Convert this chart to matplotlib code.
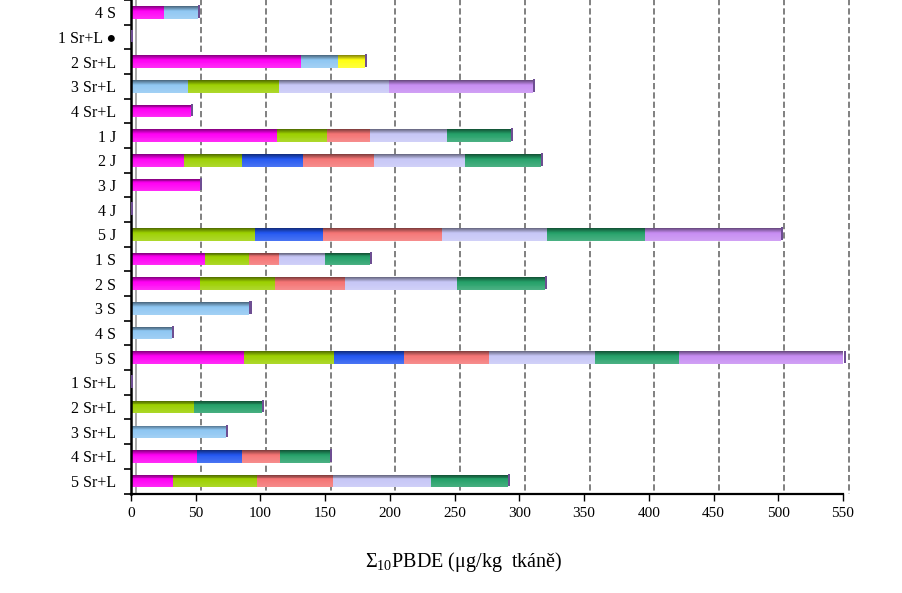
import numpy as np
import matplotlib
matplotlib.use("Agg")
import matplotlib.pyplot as plt
from matplotlib import transforms
from matplotlib.colors import to_rgb

# ---------------- data ----------------
categories = ["4 S", "1 Sr+L \u25CF", "2 Sr+L", "3 Sr+L", "4 Sr+L",
              "1 J", "2 J", "3 J", "4 J", "5 J",
              "1 S", "2 S", "3 S", "4 S", "5 S",
              "1 Sr+L", "2 Sr+L", "3 Sr+L", "4 Sr+L", "5 Sr+L"]

magenta  = [25.5, 0, 131.5, 0, 46.5, 113, 41, 53.5, 0, 0, 57.5, 53.5, 0, 0, 87, 0, 0, 0, 51, 32.5]
skyblue  = [26.5, 0, 28.5, 44, 0, 0, 0, 0, 0, 0, 0, 0, 91.5, 32, 0, 0, 0, 73, 0, 0]
yellow   = [0, 0, 21, 0, 0, 0, 0, 0, 0, 0, 0, 0, 0, 0, 0, 0, 0, 0, 0, 0]
ygreen   = [0, 0, 0, 70, 0, 38.5, 45, 0, 0, 96, 34, 58, 0, 0, 69.5, 0, 48.5, 0, 0, 64.5]
blue     = [0, 0, 0, 0, 0, 0, 46.5, 0, 0, 52, 0, 0, 0, 0, 54, 0, 0, 0, 34.5, 0]
salmon   = [0, 0, 0, 0, 0, 33.5, 55, 0, 0, 92, 23, 54, 0, 0, 66, 0, 0, 0, 29.5, 59]
lavender = [0, 0, 0, 85, 0, 59, 70.5, 0, 0, 81, 35, 86, 0, 0, 82, 0, 0, 0, 0, 75.5]
dgreen   = [0, 0, 0, 0, 0, 49.5, 58.5, 0, 0, 76, 35, 68, 0, 0, 65, 0, 53, 0, 38.5, 60]
purple   = [0, 0, 0, 111.5, 0, 0, 0, 0, 0, 105, 0, 0, 0, 0, 127, 0, 0, 0, 0, 0]

series = [magenta, skyblue, yellow, ygreen, blue, salmon, lavender, dgreen, purple]
colors = ["#FF00F4", "#8EC6F2", "#FFFF10", "#9CD000", "#2256F0",
          "#F47474", "#C6C6F6", "#24A068", "#C68CF2"]

xticks = [0, 50, 100, 150, 200, 250, 300, 350, 400, 450, 500, 550]
xlabel = "\u03A3$_{10}$PBDE (\u03BCg/kg  tk\u00E1n\u011B)"

# ---------------- figure ----------------
plt.rcParams['font.family'] = ['Liberation Serif', 'DejaVu Sans']
plt.rcParams['mathtext.fontset'] = 'custom'
plt.rcParams['mathtext.rm'] = 'Liberation Serif'
plt.rcParams['mathtext.it'] = 'Liberation Serif'

fig = plt.figure(figsize=(9.03, 5.93), dpi=100)
ax = fig.add_axes([131 / 903, (593 - 493.5) / 593, (843 - 131) / 903, 493.5 / 593])

n = len(categories)
y = np.arange(n)
bar_h = 0.51
N = 14

def shade(c, t):
    c = np.array(to_rgb(c))
    dark = c * 0.5
    light = c + (1 - c) * 0.18
    if t < 0.35:
        s = t / 0.35
        return dark * (1 - s) + c * s
    s = (t - 0.35) / 0.65
    return c * (1 - s) + light * s

# back-wall offset for gridlines (3D look)
off = transforms.offset_copy(ax.transData, fig=fig, x=5.5, y=0, units='dots')

for xv in xticks:
    if xv == 0:
        ax.plot([xv, xv], [-0.6, n - 0.5], color="#9a9a9a", lw=1.2,
                transform=off, clip_on=False, zorder=1)
    else:
        ax.plot([xv, xv], [-0.6, n - 0.5], color="#808080", lw=1.4,
                ls=(0, (3.2, 1.6)), transform=off, clip_on=False, zorder=1)

left = np.zeros(n)
for vals, col in zip(series, colors):
    vals = np.array(vals, dtype=float)
    for k in range(N):
        t = (k + 0.5) / N
        yk = y - bar_h / 2 + (k + 0.5) * bar_h / N
        ax.barh(yk, vals, left=left, height=bar_h / N * 1.02,
                color=shade(col, t), linewidth=0, zorder=3)
    left = left + vals

# end caps (3D side face)
ax.barh(y - 0.04, np.full(n, 1.6), left=left, height=bar_h, color="#6E4E92",
        linewidth=0, zorder=6, clip_on=False)

ax.set_xlim(0, 550)
ax.set_ylim(n - 0.5, -0.5)

ax.set_yticks(y)
ax.set_yticklabels(categories, fontsize=11.5)
ax.set_yticks(np.arange(-0.5, n, 1.0), minor=True)
ax.tick_params(axis='y', which='major', length=0, pad=10.8)
ax.tick_params(axis='y', which='minor', length=5, width=1.2, direction='out')

ax.set_xticks(xticks)
ax.set_xticklabels([str(v) for v in xticks], fontsize=11)
ax.tick_params(axis='x', length=5, width=1.0, direction='out', pad=5)

for side in ['top', 'right']:
    ax.spines[side].set_visible(False)
ax.spines['left'].set_linewidth(1.8)
ax.spines['bottom'].set_linewidth(1.6)
ax.spines['left'].set_zorder(5)

fig.text(464 / 903, 1 - 562 / 593, xlabel, fontsize=14.5, ha='center', va='center')

fig.savefig("out.png", dpi=100)
